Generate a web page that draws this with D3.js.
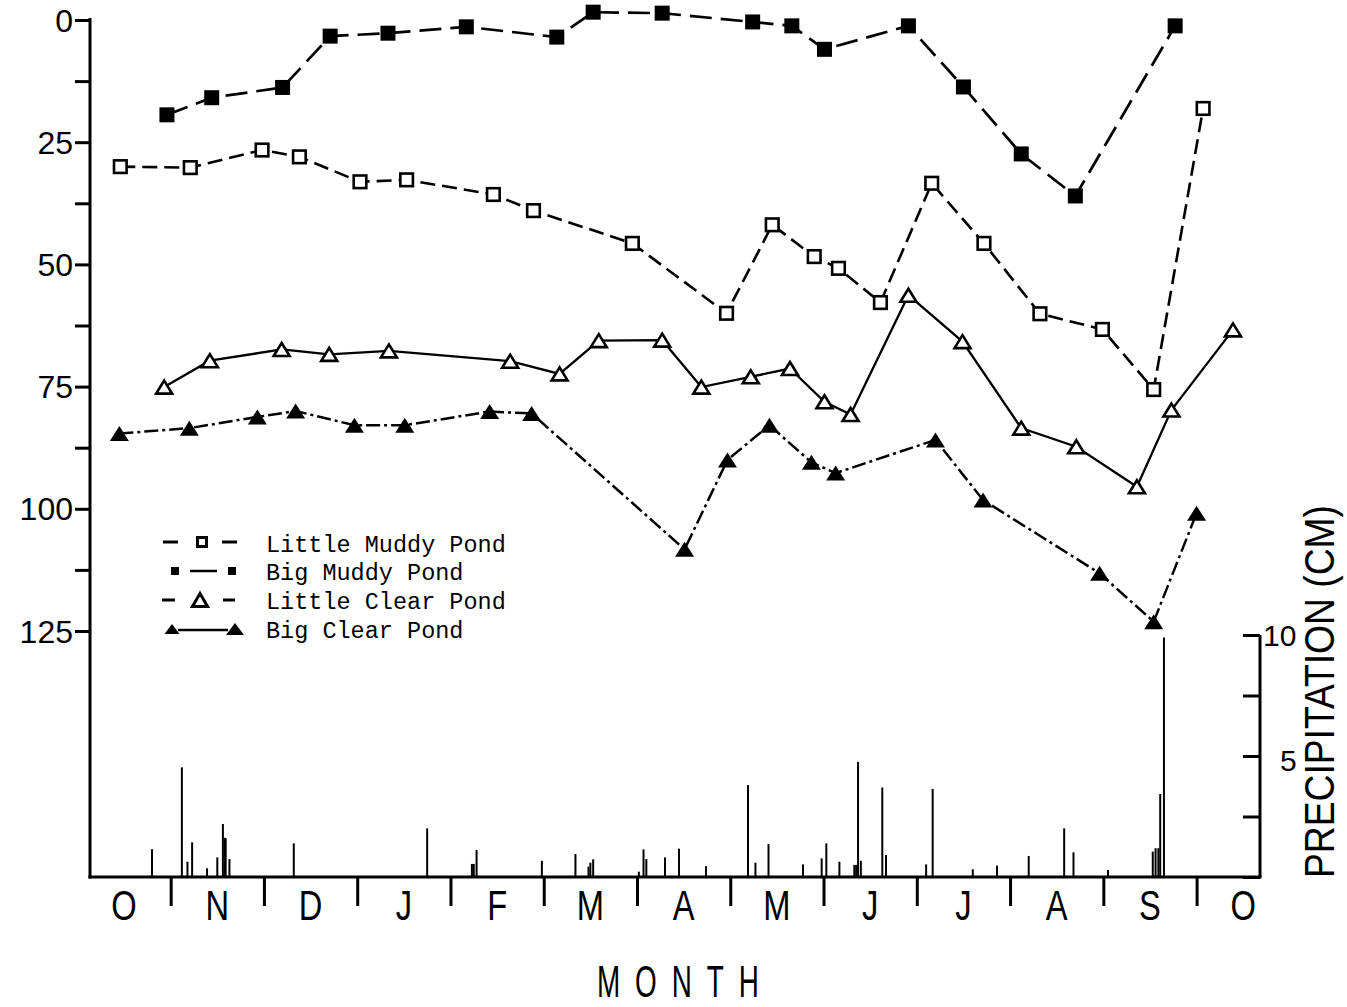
<!DOCTYPE html>
<html>
<head>
<meta charset="utf-8">
<script src="https://cdn.jsdelivr.net/npm/d3@7"></script>
<style>
  html, body { margin: 0; padding: 0; background: #fff; }
  svg { display: block; }
  text { fill: #000; }
</style>
</head>
<body>
<svg id="chart" width="1347" height="1007"></svg>
<script>
// Month letters, starting October (index 0) through the next October
const monthLabels = ["O","N","D","J","F","M","A","M","J","J","A","S","O"];
const depthTicks = [0, 12.5, 25, 37.5, 50, 62.5, 75, 87.5, 100, 112.5, 125];
const depthLabels = [0, 25, 50, 75, 100, 125];
const rainTicks = [0, 2.5, 5, 7.5, 10];
const rainLabels = [5, 10];

// Series: [month position (0 = start of Oct), value]
const littleMuddy = [[0.46,30.0],[1.21,30.2],[1.98,26.6],[2.38,28.0],[3.03,33.1],[3.53,32.7],[4.46,35.7],[4.89,39.0],[5.95,45.7],[6.96,60.0],[7.45,41.9],[7.90,48.4],[8.16,50.8],[8.61,57.8],[9.16,33.4],[9.72,45.7],[10.32,60.1],[10.99,63.3],[11.54,75.6],[12.07,18.1]];
const bigMuddy = [[0.96,19.4],[1.44,15.9],[2.20,13.8],[2.71,3.3],[3.33,2.7],[4.17,1.4],[5.14,3.5],[5.53,-1.6],[6.27,-1.4],[7.24,0.4],[7.66,1.2],[8.01,6.0],[8.91,1.2],[9.50,13.7],[10.12,27.4],[10.70,36.0],[11.77,1.2]];
const littleClear = [[0.93,75.1],[1.42,69.7],[2.19,67.4],[2.70,68.4],[3.34,67.7],[4.64,69.8],[5.17,72.4],[5.59,65.6],[6.27,65.5],[6.69,75.1],[7.22,73.0],[7.64,71.3],[8.01,78.1],[8.29,80.7],[8.91,56.3],[9.49,65.8],[10.12,83.5],[10.71,87.3],[11.36,95.5],[11.73,79.8],[12.39,63.4]];
const bigClear = [[0.45,84.6],[1.20,83.5],[1.93,81.2],[2.34,80.0],[2.97,82.9],[3.51,82.9],[4.42,80.1],[4.87,80.5],[6.51,108.3],[6.97,90.0],[7.42,82.9],[7.87,90.5],[8.13,92.7],[9.20,85.9],[9.71,98.2],[10.96,113.2],[11.54,123.1],[12.00,100.9]];

// Daily precipitation events (cm)
const rainMonth = [0.80,1.12,1.18,1.23,1.39,1.50,1.56,1.58,1.59,1.63,2.32,3.75,4.23,4.25,4.28,4.98,5.34,5.48,5.50,5.53,6.02,6.07,6.10,6.30,6.45,6.74,7.19,7.27,7.41,7.78,7.98,8.03,8.17,8.33,8.35,8.37,8.40,8.63,8.67,9.10,9.17,9.60,9.86,10.20,10.58,10.68,11.05,11.53,11.56,11.59,11.61,11.65];
const rainCm = [1.15,4.53,0.63,1.43,0.36,0.81,2.19,1.62,1.60,0.74,1.39,2.01,0.54,0.54,1.12,0.67,0.95,0.43,0.59,0.73,0.22,1.14,0.74,0.81,1.17,0.45,3.80,0.59,1.36,0.52,0.77,1.39,0.63,0.50,0.50,4.76,0.67,3.70,0.91,0.52,3.64,0.32,0.47,0.87,2.01,1.02,0.29,1.05,1.19,1.19,3.43,9.90];

const legendNames = ["Little Muddy Pond", "Big Muddy Pond", "Little Clear Pond", "Big Clear Pond"];

const svg = d3.select("#chart");
const SANS = "'Liberation Sans', Arial, Helvetica, sans-serif";
const MONO = "'Courier New', 'Liberation Mono', monospace";

const x = d3.scaleLinear().domain([0, 12]).range([77.4, 1196.6]);
const y = d3.scaleLinear().domain([0, 125]).range([20, 631]);
const yRain = d3.scaleLinear().domain([0, 10]).range([877, 635]);

const axisLeftX = 90, axisRightX = 1260, baseY = 877;

// ---- Frame lines ----
svg.append("line").attr("x1", axisLeftX).attr("x2", axisLeftX).attr("y1", 18).attr("y2", baseY + 1.5)
  .attr("stroke", "#000").attr("stroke-width", 3);
svg.append("line").attr("x1", axisLeftX - 1.5).attr("x2", axisRightX + 1.5).attr("y1", baseY).attr("y2", baseY)
  .attr("stroke", "#000").attr("stroke-width", 3);

// ---- Left depth axis ----
const gLeft = svg.append("g").attr("transform", `translate(${axisLeftX},0)`)
  .call(d3.axisLeft(y).tickValues(depthTicks).tickSize(15).tickSizeOuter(0).tickFormat(""));
gLeft.select(".domain").remove();
gLeft.selectAll(".tick line").attr("stroke", "#000").attr("stroke-width", 3);

svg.append("g").selectAll("text").data(depthLabels).join("text")
  .attr("x", 73).attr("y", d => y(d) + 11.5)
  .attr("text-anchor", "end")
  .attr("font-family", SANS).attr("font-size", 32)
  .text(d => d);

// ---- Right precipitation axis ----
const gRight = svg.append("g").attr("transform", `translate(${axisRightX},0)`)
  .call(d3.axisLeft(yRain).tickValues(rainTicks).tickSize(17).tickSizeOuter(0).tickFormat(""));
gRight.select(".domain").attr("stroke", "#000").attr("stroke-width", 3).attr("d", `M0,${yRain(10)}V${yRain(0)}`);
gRight.selectAll(".tick line").attr("stroke", "#000").attr("stroke-width", 3);

svg.append("g").selectAll("text").data(rainLabels).join("text")
  .attr("x", d => d === 10 ? 1263 : 1280)
  .attr("y", d => yRain(d) + (d === 10 ? 11 : 15))
  .attr("font-family", SANS).attr("font-size", 30)
  .text(d => d);

svg.append("text")
  .attr("transform", "translate(1334,878) rotate(-90)")
  .attr("font-family", SANS).attr("font-size", 43)
  .attr("textLength", 373).attr("lengthAdjust", "spacingAndGlyphs")
  .text("PRECIPITATION (CM)");

// ---- Bottom month axis ----
const gBottom = svg.append("g").attr("transform", `translate(0,${baseY})`)
  .call(d3.axisBottom(x).tickValues(d3.range(1, 13)).tickSize(29).tickSizeOuter(0).tickFormat(""));
gBottom.select(".domain").remove();
gBottom.selectAll(".tick line").attr("stroke", "#000").attr("stroke-width", 3);

svg.append("g").selectAll("text").data(monthLabels).join("text")
  .attr("transform", (d, i) => `translate(${x(i + 0.5)},920) scale(0.76,1)`)
  .attr("text-anchor", "middle")
  .attr("font-family", SANS).attr("font-size", 43)
  .text(d => d);

svg.append("text")
  .attr("transform", "translate(597,997) scale(0.62,1)")
  .attr("font-family", SANS).attr("font-size", 45)
  .attr("textLength", 261).attr("lengthAdjust", "spacing")
  .text("MONTH");

// ---- Precipitation bars ----
svg.append("g").selectAll("line").data(rainMonth).join("line")
  .attr("x1", d => x(d)).attr("x2", d => x(d))
  .attr("y1", yRain(0)).attr("y2", (d, i) => yRain(rainCm[i]))
  .attr("stroke", "#000").attr("stroke-width", 2);

// ---- Pond series ----
const line = d3.line().x(d => x(d[0])).y(d => y(d[1]));

const series = [
  { data: bigClear, dash: "14,4,3,4", width: 2.5, marker: "triFilled" },
  { data: littleClear, dash: null, width: 2.3, marker: "triOpen" },
  { data: littleMuddy, dash: "15,7", width: 2.6, marker: "sqOpen" },
  { data: bigMuddy, dash: "22,9", width: 2.7, marker: "sqFilled" }
];

function triPath(w, h) {
  return `M0,${-h / 2}L${w / 2},${h / 2}L${-w / 2},${h / 2}Z`;
}

function drawMarker(g, type) {
  if (type === "sqFilled") {
    g.append("rect").attr("x", -7.5).attr("y", -7.5).attr("width", 15).attr("height", 15)
      .attr("fill", "#000");
  } else if (type === "sqOpen") {
    g.append("rect").attr("x", -6.3).attr("y", -6.3).attr("width", 12.6).attr("height", 12.6)
      .attr("fill", "#fff").attr("stroke", "#000").attr("stroke-width", 2.6);
  } else if (type === "triOpen") {
    g.append("path").attr("d", triPath(16, 13))
      .attr("fill", "#fff").attr("stroke", "#000").attr("stroke-width", 2.6).attr("stroke-linejoin", "miter");
  } else if (type === "triFilled") {
    g.append("path").attr("d", triPath(19, 15)).attr("fill", "#000");
  }
}

series.forEach(s => {
  svg.append("path").datum(s.data).attr("d", line)
    .attr("fill", "none").attr("stroke", "#000").attr("stroke-width", s.width)
    .attr("stroke-dasharray", s.dash);
  const gm = svg.append("g");
  s.data.forEach(d => {
    const g = gm.append("g").attr("transform", `translate(${x(d[0])},${y(d[1])})`);
    drawMarker(g, s.marker);
  });
});

// ---- Legend ----
const legend = svg.append("g");
const rowsY = [542, 571, 600, 629];
const baselines = [551.5, 580, 608.5, 637.5];

// Little Muddy: dash, small open square, dash
legend.append("line").attr("x1", 163).attr("x2", 178).attr("y1", rowsY[0]).attr("y2", rowsY[0]).attr("stroke", "#000").attr("stroke-width", 3);
legend.append("rect").attr("x", 197.5).attr("y", rowsY[0] - 4.5).attr("width", 9).attr("height", 9)
  .attr("fill", "#fff").attr("stroke", "#000").attr("stroke-width", 3);
legend.append("line").attr("x1", 222).attr("x2", 237).attr("y1", rowsY[0]).attr("y2", rowsY[0]).attr("stroke", "#000").attr("stroke-width", 3);

// Big Muddy: square, line, square
legend.append("rect").attr("x", 171).attr("y", rowsY[1] - 4).attr("width", 8).attr("height", 8).attr("fill", "#000");
legend.append("line").attr("x1", 190).attr("x2", 217).attr("y1", rowsY[1]).attr("y2", rowsY[1]).attr("stroke", "#000").attr("stroke-width", 2.5);
legend.append("rect").attr("x", 228).attr("y", rowsY[1] - 4).attr("width", 8).attr("height", 8).attr("fill", "#000");

// Little Clear: dash, open triangle, dash
legend.append("line").attr("x1", 162).attr("x2", 175).attr("y1", rowsY[2]).attr("y2", rowsY[2]).attr("stroke", "#000").attr("stroke-width", 3);
legend.append("path").attr("transform", `translate(200,${rowsY[2]})`).attr("d", triPath(15, 13))
  .attr("fill", "#fff").attr("stroke", "#000").attr("stroke-width", 3);
legend.append("line").attr("x1", 223).attr("x2", 235).attr("y1", rowsY[2]).attr("y2", rowsY[2]).attr("stroke", "#000").attr("stroke-width", 3);

// Big Clear: filled triangle, line, filled triangle
legend.append("path").attr("transform", `translate(172,${rowsY[3]})`).attr("d", triPath(15, 10)).attr("fill", "#000");
legend.append("line").attr("x1", 178).attr("x2", 228).attr("y1", rowsY[3] + 1).attr("y2", rowsY[3] + 1).attr("stroke", "#000").attr("stroke-width", 2.5);
legend.append("path").attr("transform", `translate(235,${rowsY[3]})`).attr("d", triPath(18, 12)).attr("fill", "#000");

legend.selectAll("text").data(legendNames).join("text")
  .attr("x", 266).attr("y", (d, i) => baselines[i])
  .attr("font-family", MONO).attr("font-size", 23.5)
  .text(d => d);
</script>
</body>
</html>
